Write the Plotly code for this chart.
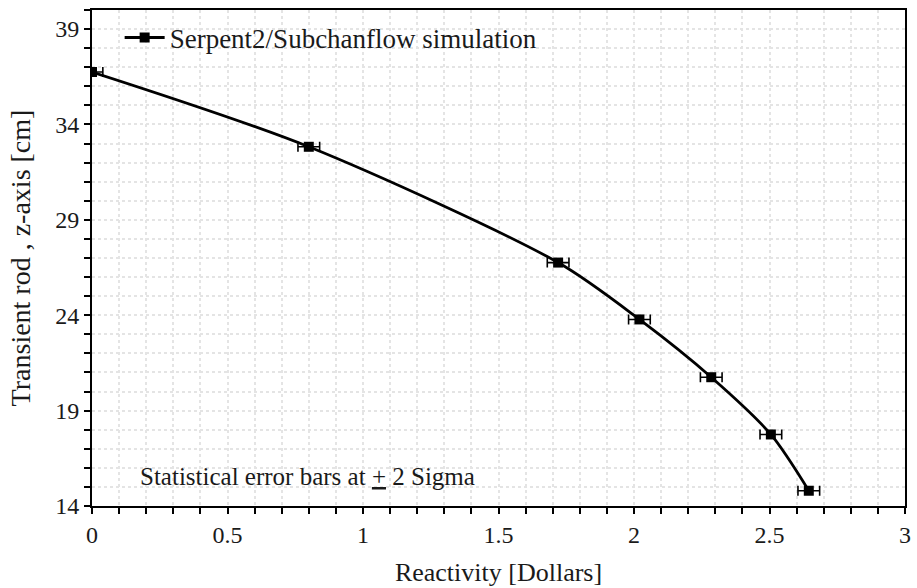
import plotly.graph_objects as go

# Reactivity worth curve of the transient rod
reactivity = [0.0, 0.80, 1.72, 2.02, 2.285, 2.505, 2.645]
rod_position = [36.75, 32.83, 26.76, 23.78, 20.75, 17.75, 14.8]
reactivity_err = [0.04, 0.04, 0.04, 0.04, 0.04, 0.04, 0.04]

series_name = "Serpent2/Subchanflow simulation"
note_text = "Statistical error bars at <u>+</u> 2 Sigma"

FONT = "Liberation Serif"
GRID = "#e4e4e4"
TEXT = "#1a1a1a"

fig = go.Figure()
fig.add_trace(go.Scatter(
    x=reactivity,
    y=rod_position,
    mode="lines+markers",
    name=series_name,
    line=dict(color="black", width=2.8, shape="spline", smoothing=0.8),
    marker=dict(symbol="square", size=10, color="black"),
    error_x=dict(type="data", array=reactivity_err, visible=True,
                 color="black", thickness=1.6, width=5),
))

fig.add_annotation(
    x=0.17, y=15.55, xref="x", yref="y",
    text=note_text, showarrow=False, xanchor="left", yanchor="middle",
    font=dict(family=FONT, size=25, color=TEXT),
)

axis_common = dict(
    showline=True, linecolor="black", linewidth=2, mirror=True,
    ticks="outside", ticklen=6, tickwidth=1.5, tickcolor="black",
    showgrid=True, gridcolor=GRID, griddash="dot", gridwidth=1.5,
    zeroline=False,
    tickfont=dict(family=FONT, size=24, color=TEXT),
)

fig.update_xaxes(
    range=[0, 3], tick0=0, dtick=0.5,
    title_text="Reactivity [Dollars]", title_standoff=16,
    title_font=dict(family=FONT, size=26, color=TEXT),
    minor=dict(dtick=0.1, ticks="outside", ticklen=6, tickwidth=1.5,
               tickcolor="black", showgrid=True, gridcolor=GRID,
               griddash="dot", gridwidth=1.5),
    **axis_common,
)
fig.update_yaxes(
    range=[14, 40], tick0=14, dtick=5,
    title_text="Transient rod , z-axis [cm]", title_standoff=16,
    title_font=dict(family=FONT, size=28, color=TEXT),
    minor=dict(dtick=1, ticks="outside", ticklen=6, tickwidth=1.5,
               tickcolor="black", showgrid=True, gridcolor=GRID,
               griddash="dot", gridwidth=1.5),
    **axis_common,
)

fig.update_layout(
    width=917, height=588,
    margin=dict(l=92, r=6, t=10, b=80),
    paper_bgcolor="white", plot_bgcolor="white",
    showlegend=True,
    legend=dict(x=0.034, y=0.993, xanchor="left", yanchor="top",
                bgcolor="rgba(255,255,255,0)", itemwidth=40,
                font=dict(family=FONT, size=27, color=TEXT)),
)

fig.write_html("out.html")
